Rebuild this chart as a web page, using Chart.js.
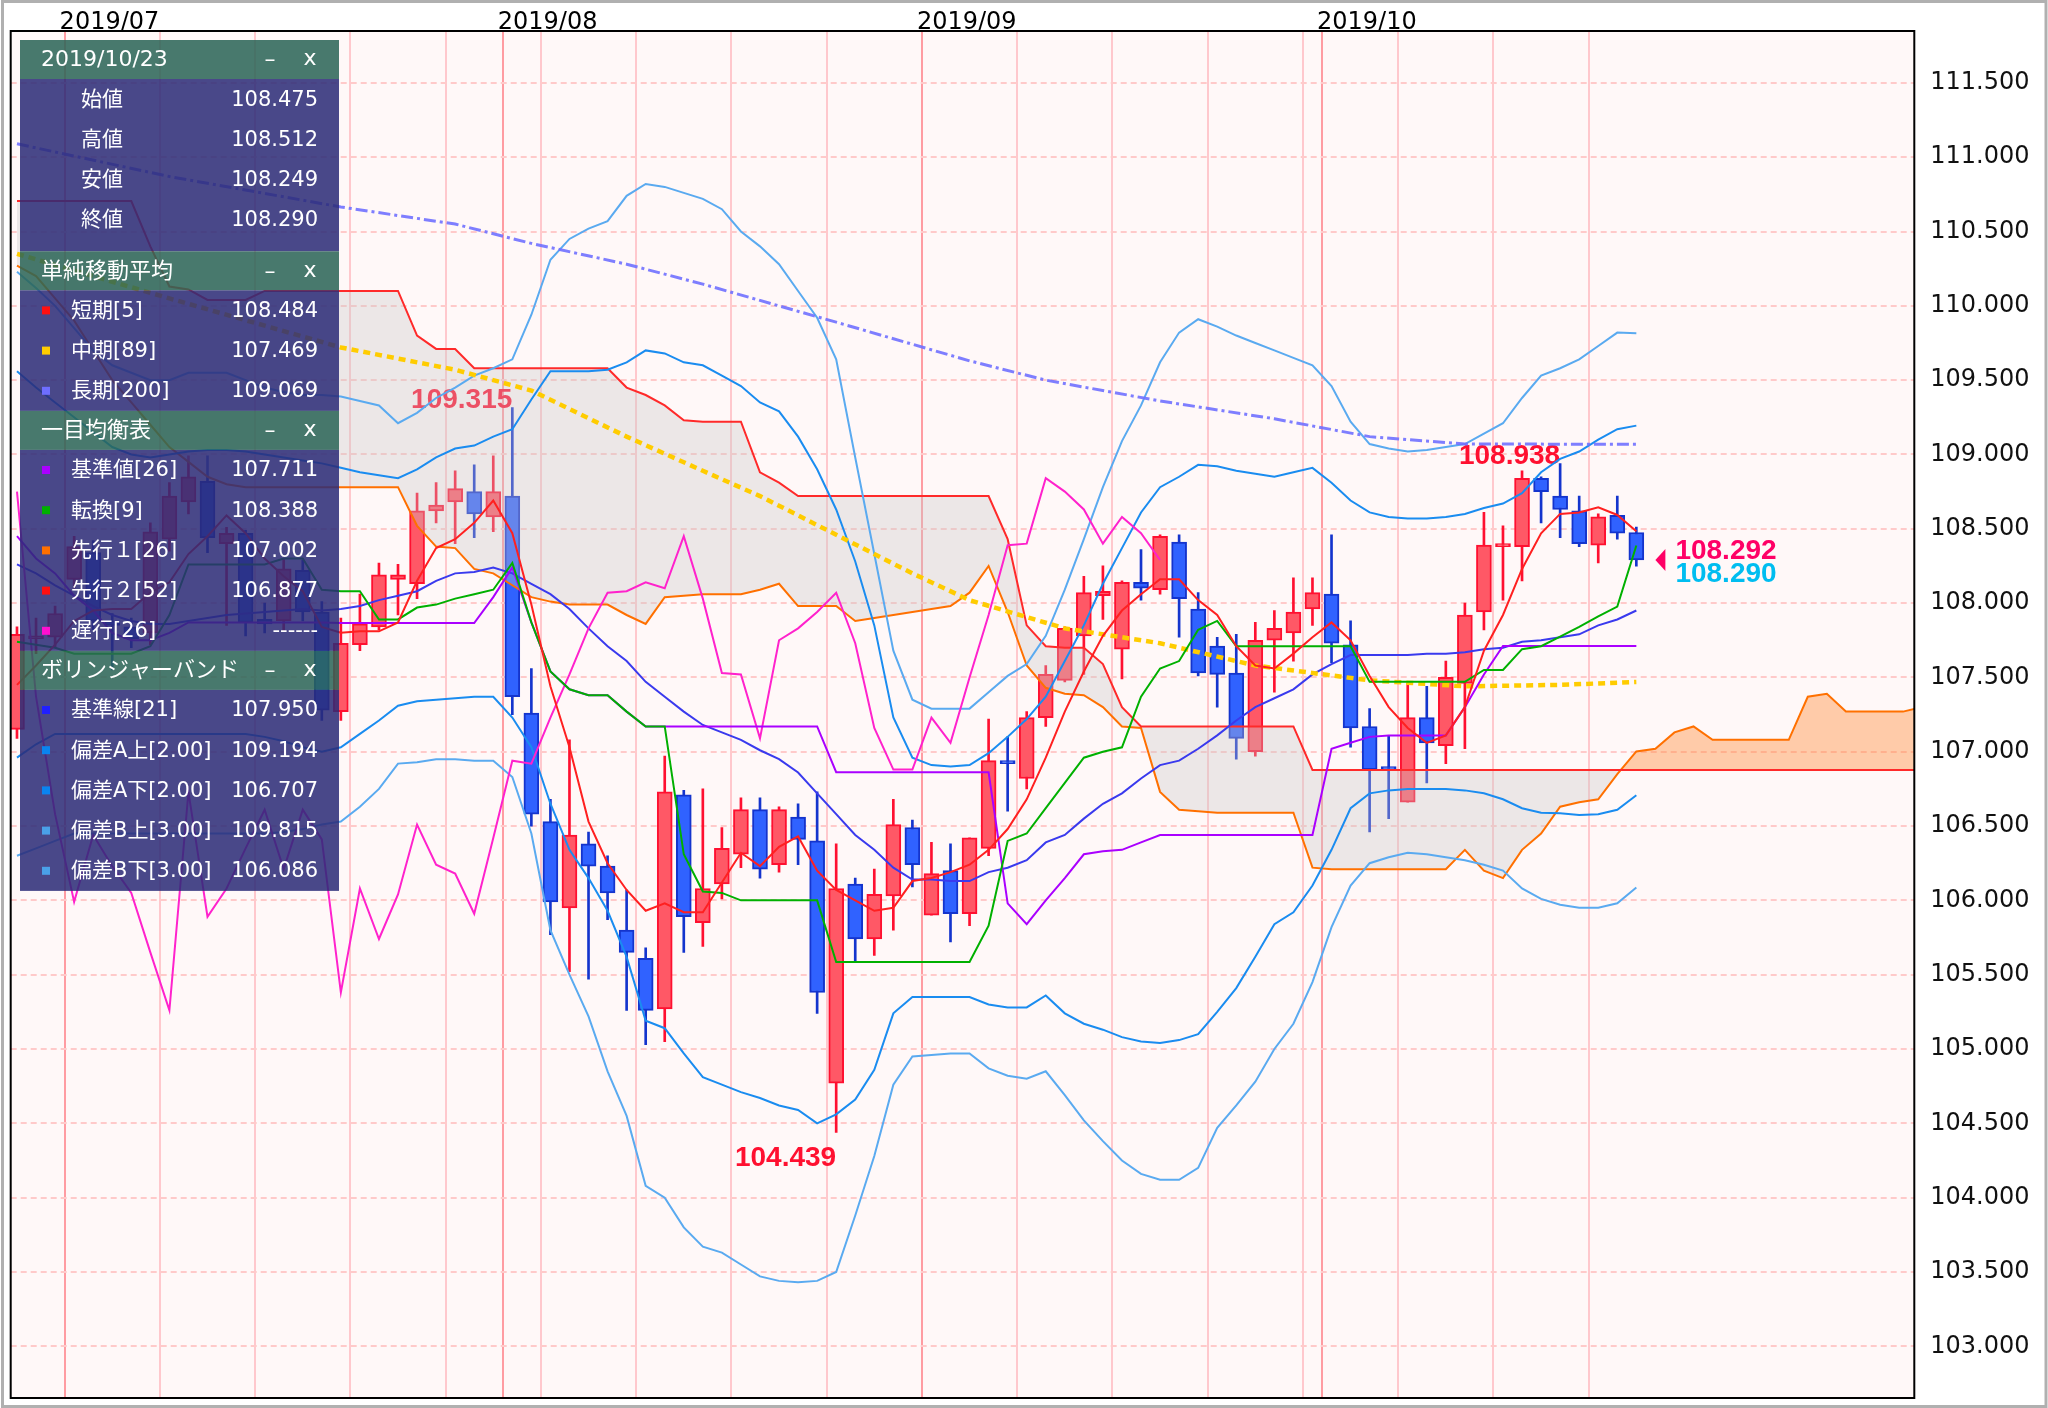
<!DOCTYPE html>
<html>
<head>
<meta charset="utf-8">
<script src="https://cdn.jsdelivr.net/npm/chart.js@4.4.1/dist/chart.umd.min.js"></script>
<style>
  html, body { margin: 0; padding: 0; background: #ffffff; }
  #wrap { width: 2048px; height: 1408px; }
</style>
</head>
<body>
<div id="wrap"><canvas id="chart" width="2048" height="1408"></canvas></div>
<script>
// Trading days shown on the chart (USD/JPY daily)
const dates = [
  '2019/06/26','2019/06/27','2019/06/28',
  '2019/07/01','2019/07/02','2019/07/03','2019/07/04','2019/07/05',
  '2019/07/08','2019/07/09','2019/07/10','2019/07/11','2019/07/12',
  '2019/07/15','2019/07/16','2019/07/17','2019/07/18','2019/07/19',
  '2019/07/22','2019/07/23','2019/07/24','2019/07/25','2019/07/26',
  '2019/07/29','2019/07/30','2019/07/31','2019/08/01','2019/08/02',
  '2019/08/05','2019/08/06','2019/08/07','2019/08/08','2019/08/09',
  '2019/08/12','2019/08/13','2019/08/14','2019/08/15','2019/08/16',
  '2019/08/19','2019/08/20','2019/08/21','2019/08/22','2019/08/23',
  '2019/08/26','2019/08/27','2019/08/28','2019/08/29','2019/08/30',
  '2019/09/02','2019/09/03','2019/09/04','2019/09/05','2019/09/06',
  '2019/09/09','2019/09/10','2019/09/11','2019/09/12','2019/09/13',
  '2019/09/16','2019/09/17','2019/09/18','2019/09/19','2019/09/20',
  '2019/09/23','2019/09/24','2019/09/25','2019/09/26','2019/09/27',
  '2019/09/30','2019/10/01','2019/10/02','2019/10/03','2019/10/04',
  '2019/10/07','2019/10/08','2019/10/09','2019/10/10','2019/10/11',
  '2019/10/14','2019/10/15','2019/10/16','2019/10/17','2019/10/18',
  '2019/10/21','2019/10/22','2019/10/23'
];

// Candles
const open = [
  107.15,107.76,107.77,108.16,108.34,107.88,107.84,107.80,108.43,108.68,
  108.82,108.40,108.47,107.89,107.88,108.22,107.94,107.27,107.72,107.84,
  108.16,108.13,108.62,108.68,108.75,108.58,108.72,107.26,106.53,105.95,
  106.38,106.23,105.80,105.61,105.27,106.71,105.85,106.11,106.31,106.61,
  106.24,106.56,106.40,104.77,106.11,105.74,106.03,106.49,105.90,106.20,
  105.91,106.35,106.93,106.82,107.23,107.48,107.78,108.05,107.69,108.14,
  108.09,108.41,107.96,107.71,107.53,107.00,107.75,107.80,107.96,108.06,
  107.72,107.17,106.90,106.66,107.23,107.04,107.46,107.94,108.38,108.38,
  108.84,108.72,108.62,108.39,108.59,108.475
];
const high = [
  107.84,107.90,107.98,108.45,108.42,107.93,107.90,108.54,108.81,108.99,
  108.99,108.51,108.49,108.00,108.30,108.29,108.01,107.90,108.06,108.27,
  108.26,108.74,108.81,108.89,108.93,108.99,109.315,107.56,106.68,107.08,
  106.46,106.30,106.07,105.68,106.97,106.74,106.75,106.49,106.69,106.69,
  106.63,106.65,106.73,106.38,106.15,106.21,106.68,106.54,106.39,106.38,
  106.42,107.22,107.10,107.27,107.58,107.84,108.18,108.25,108.15,108.36,
  108.46,108.46,108.07,107.77,107.79,107.87,107.95,108.17,108.17,108.46,
  107.88,107.29,107.11,107.46,107.44,107.61,108.00,108.61,108.52,108.89,
  108.85,108.938,108.72,108.60,108.72,108.512
];
const low = [
  107.09,107.66,107.70,108.10,107.82,107.55,107.70,107.72,108.35,108.60,
  108.34,107.85,107.78,107.80,107.81,107.88,107.21,107.21,107.68,107.82,
  107.92,108.03,108.54,108.40,108.44,108.48,107.25,106.50,105.77,105.52,
  105.47,105.87,105.26,105.03,105.05,105.65,105.69,106.01,106.22,106.15,
  106.19,106.24,105.24,104.439,105.59,105.63,105.80,106.09,105.90,105.72,
  105.83,106.30,106.60,106.75,107.17,107.47,107.52,107.89,107.49,108.02,
  108.06,107.77,107.51,107.30,106.95,106.97,107.40,107.61,107.85,107.60,
  107.03,106.46,106.55,106.66,106.79,106.92,107.02,107.82,108.02,108.15,
  108.54,108.44,108.38,108.27,108.43,108.249
];
const close = [
  107.79,107.77,107.93,108.38,107.88,107.85,107.76,108.48,108.72,108.85,
  108.44,108.47,107.87,107.86,108.23,107.94,107.28,107.73,107.86,108.19,
  108.19,108.62,108.66,108.77,108.60,108.75,107.37,106.58,105.99,106.44,
  106.23,106.05,105.65,105.26,106.73,105.89,106.08,106.35,106.61,106.21,
  106.61,106.41,105.38,106.08,105.74,106.04,106.51,106.24,106.18,105.91,
  106.42,106.94,106.92,107.23,107.52,107.83,108.07,108.08,108.14,108.10,
  108.45,108.03,107.53,107.52,107.09,107.75,107.83,107.94,108.07,107.73,
  107.16,106.88,106.88,107.23,107.06,107.50,107.92,108.39,108.40,108.84,
  108.75,108.63,108.40,108.58,108.47,108.290
];
const askPrice = 108.292;

// Simple moving averages
const sma5 = [
  107.45,107.58,107.72,107.88,107.95,107.96,107.96,108.07,108.14,108.33,
  108.45,108.59,108.47,108.30,108.18,108.08,107.84,107.80,107.81,107.81,
  107.87,108.15,108.37,108.43,108.54,108.69,108.47,107.99,107.44,107.03,
  106.53,106.25,106.07,105.93,105.98,105.92,105.92,106.12,106.32,106.23,
  106.36,106.43,106.20,106.07,106.00,105.93,105.95,106.13,106.15,106.19,
  106.24,106.34,106.48,106.68,106.96,107.27,107.54,107.78,107.95,108.06,
  108.16,108.16,108.02,107.92,107.71,107.58,107.56,107.66,107.77,107.87,
  107.75,107.51,107.30,107.16,107.06,107.11,107.30,107.68,107.92,108.23,
  108.47,108.60,108.61,108.645,108.593,108.484
];
const sma89Day = [0, 8, 17, 23, 27, 32, 36, 39, 43, 47, 50, 55, 60, 65, 71, 76, 81, 85];
const sma89Val = [110.35,110.05,109.72,109.57,109.43,109.12,108.89,108.72,108.46,108.20,108.02,107.83,107.73,107.58,107.48,107.44,107.45,107.469];
const sma200Day = [0, 8, 17, 23, 27, 32, 36, 43, 50, 54, 60, 66, 71, 76, 85];
const sma200Val = [111.09,110.87,110.665,110.55,110.42,110.28,110.146,109.89,109.63,109.50,109.36,109.24,109.12,109.07,109.069];

// Ichimoku
const kijun = [
  108.45,108.30,108.20,108.05,107.95,107.80,107.75,107.75,107.80,107.87,
  107.87,107.87,107.87,107.87,107.87,107.87,107.87,107.866,107.866,107.866,
  107.866,107.866,107.866,107.866,107.866,108.04,108.24,107.87,107.54,107.42,
  107.38,107.38,107.27,107.17,107.17,107.17,107.17,107.17,107.17,107.17,
  107.17,107.17,107.17,106.862,106.862,106.862,106.862,106.862,106.862,106.862,
  106.862,106.862,105.98,105.84,106.00,106.15,106.31,106.33,106.34,106.39,
  106.44,106.44,106.44,106.44,106.44,106.44,106.44,106.44,106.44,107.02,
  107.06,107.10,107.11,107.11,107.11,107.11,107.30,107.52,107.711,107.711,
  107.711,107.711,107.711,107.711,107.711,107.711
];
const tenkan = [
  107.74,107.72,107.70,107.66,107.66,107.66,107.66,107.71,107.92,108.26,
  108.26,108.26,108.26,108.26,108.30,108.30,108.09,108.08,108.08,107.89,
  107.89,107.97,107.99,108.03,108.06,108.09,108.27,107.87,107.54,107.42,
  107.38,107.38,107.27,107.17,107.17,106.31,106.06,106.05,106.00,106.00,
  106.00,106.00,106.00,105.585,105.585,105.585,105.585,105.585,105.585,105.585,
  105.585,105.83,106.40,106.45,106.62,106.79,106.96,107.00,107.03,107.37,
  107.56,107.61,107.82,107.88,107.71,107.71,107.71,107.71,107.71,107.71,
  107.71,107.47,107.47,107.47,107.47,107.47,107.47,107.55,107.55,107.69,
  107.71,107.775,107.84,107.91,107.976,108.388
];
// leading spans run 14 slots past the last candle
const senkouA = [
  110.27,110.20,110.05,109.90,109.70,109.50,109.35,109.20,109.05,108.95,
  108.85,108.80,108.78,108.78,108.78,108.78,108.78,108.78,108.78,108.78,
  108.78,108.52,108.38,108.37,108.23,108.20,108.12,108.04,108.01,107.99,
  107.99,107.99,107.92,107.86,108.04,108.05,108.06,108.06,108.06,108.09,
  108.13,107.98,107.98,107.98,107.88,107.90,107.92,107.94,107.96,107.98,
  108.07,108.25,107.94,107.58,107.43,107.39,107.38,107.30,107.17,107.16,
  106.73,106.61,106.60,106.59,106.59,106.59,106.59,106.59,106.22,106.21,
  106.21,106.21,106.21,106.21,106.21,106.21,106.34,106.20,106.15,106.34,
  106.45,106.63,106.66,106.68,106.85,107.002,107.02,107.13,107.17,107.08,
  107.08,107.08,107.08,107.08,107.37,107.39,107.27,107.27,107.27,107.27,
  107.30
];
const senkouB = [
  110.705,110.705,110.705,110.705,110.705,110.705,110.705,110.40,110.13,110.11,
  110.04,110.04,110.04,110.10,110.10,110.10,110.10,110.10,110.10,110.10,
  110.10,109.80,109.71,109.71,109.58,109.58,109.58,109.58,109.58,109.58,
  109.58,109.58,109.45,109.40,109.33,109.23,109.22,109.22,109.22,108.88,
  108.81,108.72,108.72,108.72,108.72,108.72,108.72,108.72,108.72,108.72,
  108.72,108.72,108.43,107.85,107.71,107.70,107.70,107.59,107.30,107.17,
  107.17,107.17,107.17,107.17,107.17,107.17,107.17,107.17,106.877,106.877,
  106.877,106.877,106.877,106.877,106.877,106.877,106.877,106.877,106.877,106.877,
  106.877,106.877,106.877,106.877,106.877,106.877,106.877,106.877,106.877,106.877,
  106.877,106.877,106.877,106.877,106.877,106.877,106.877,106.877,106.877,106.877,
  106.877
];
const laggingShift = 25;

// Bollinger bands
const bbMid = [
  108.26,108.20,108.12,108.05,107.98,107.92,107.88,107.86,107.86,107.88,
  107.90,107.92,107.93,107.94,107.95,107.96,107.95,107.96,107.98,108.02,
  108.05,108.08,108.15,108.20,108.21,108.24,108.20,108.13,108.06,107.96,
  107.83,107.71,107.61,107.47,107.37,107.27,107.18,107.13,107.08,107.01,
  106.95,106.86,106.72,106.58,106.44,106.34,106.22,106.14,106.14,106.13,
  106.13,106.19,106.22,106.27,106.39,106.44,106.55,106.65,106.72,106.82,
  106.91,106.94,107.02,107.11,107.21,107.30,107.36,107.42,107.52,107.59,
  107.65,107.65,107.65,107.65,107.66,107.66,107.67,107.69,107.70,107.74,
  107.75,107.77,107.79,107.85,107.89,107.950
];
const bbUp2 = [
  109.56,109.45,109.35,109.25,109.15,109.05,109.00,108.98,109.00,109.02,
  109.03,109.03,109.02,109.00,108.98,108.96,108.94,108.91,108.88,108.86,
  108.84,108.90,108.98,109.04,109.06,109.12,109.17,109.37,109.56,109.56,
  109.56,109.57,109.62,109.70,109.68,109.62,109.60,109.53,109.46,109.35,
  109.29,109.12,108.90,108.63,108.28,107.85,107.23,106.96,106.91,106.90,
  106.91,106.99,107.10,107.22,107.37,107.61,107.85,108.13,108.37,108.61,
  108.78,108.85,108.93,108.92,108.89,108.87,108.85,108.88,108.91,108.81,
  108.69,108.61,108.58,108.57,108.57,108.58,108.60,108.64,108.67,108.74,
  108.88,108.97,109.02,109.10,109.17,109.194
];
const bbLow2 = [
  106.96,107.05,107.12,107.12,107.12,107.12,107.12,107.12,107.12,107.12,
  107.12,107.12,107.12,107.10,107.07,107.03,107.00,107.03,107.12,107.21,
  107.31,107.34,107.35,107.36,107.37,107.37,107.23,107.03,106.65,106.34,
  106.15,105.93,105.62,105.19,105.14,104.97,104.81,104.76,104.71,104.67,
  104.62,104.59,104.50,104.56,104.66,104.86,105.24,105.35,105.35,105.35,
  105.35,105.30,105.28,105.28,105.36,105.24,105.17,105.13,105.08,105.05,
  105.04,105.06,105.10,105.25,105.41,105.62,105.84,105.92,106.10,106.34,
  106.62,106.72,106.74,106.75,106.75,106.75,106.74,106.72,106.68,106.62,
  106.59,106.586,106.575,106.58,106.61,106.707
];
const bbUp3 = [
  110.23,110.12,110.00,109.85,109.70,109.60,109.55,109.50,109.50,109.55,
  109.55,109.55,109.50,109.45,109.42,109.40,109.40,109.39,109.36,109.33,
  109.21,109.28,109.38,109.45,109.53,109.58,109.64,109.94,110.31,110.45,
  110.52,110.57,110.74,110.82,110.80,110.76,110.72,110.65,110.50,110.40,
  110.28,110.10,109.92,109.64,108.98,108.33,107.68,107.35,107.29,107.29,
  107.29,107.40,107.51,107.59,107.78,108.09,108.43,108.78,109.09,109.33,
  109.62,109.82,109.91,109.86,109.80,109.75,109.70,109.65,109.60,109.46,
  109.22,109.07,109.04,109.02,109.03,109.05,109.07,109.14,109.21,109.38,
  109.53,109.58,109.64,109.73,109.82,109.815
];
const bbLow3 = [
  106.30,106.35,106.40,106.45,106.45,106.45,106.45,106.45,106.45,106.45,
  106.45,106.45,106.45,106.45,106.46,106.48,106.51,106.53,106.63,106.75,
  106.92,106.93,106.95,106.95,106.94,106.94,106.83,106.45,105.80,105.50,
  105.22,104.85,104.55,104.08,104.00,103.80,103.67,103.63,103.55,103.47,
  103.44,103.43,103.44,103.50,103.88,104.28,104.76,104.95,104.96,104.97,
  104.97,104.87,104.82,104.80,104.85,104.69,104.52,104.38,104.25,104.16,
  104.12,104.12,104.20,104.47,104.62,104.78,105.00,105.17,105.45,105.82,
  106.10,106.25,106.29,106.32,106.31,106.29,106.27,106.24,106.20,106.08,
  106.01,105.97,105.95,105.95,105.98,106.086
];

// Axis
const yTicks = { min: 102.652, max: 111.849, step: 0.5 };

const last = dates.length - 1;
const isUp = close.map((c, k) => c > open[k]);
const upFill = 'rgb(255,88,102)', upEdge = 'rgb(255,16,48)';
const downFill = 'rgb(48,98,255)', downEdge = 'rgb(20,52,205)';

// Grid lines: Mondays (pink) and first trading day of a month (red, labelled)
const monthLines = {};
const gridValues = [];
dates.forEach(function (d, k) {
  if (k === 0) return;
  const p = d.split('/').map(Number);
  const prevMonth = Number(dates[k - 1].split('/')[1]);
  if (p[1] !== prevMonth) {
    monthLines[k - 0.5] = d.slice(0, 7);
    gridValues.push(k - 0.5);
  } else if (new Date(p[0], p[1] - 1, p[2]).getDay() === 1) {
    gridValues.push(k - 0.5);
  }
});

const pts = (arr) => arr.map((v, k) => ({ x: k, y: v }));
const sparse = (days, vals) => days.map((d, i) => ({ x: d, y: vals[i] }));
const lagging = close.slice(laggingShift).map((v, k) => ({ x: k, y: v }));

function line(label, data, color, extra)
{
  return Object.assign({
    type: 'line', label: label, data: data, borderColor: color, borderWidth: 2,
    pointRadius: 0, tension: 0, fill: false, spanGaps: true, order: 2
  }, extra || {});
}

// Side panel contents
const panelSections = [
  { title: dates[last], pad: 11.5, rows: [
      { label: '始値', value: open[last] },
      { label: '高値', value: high[last] },
      { label: '安値', value: low[last] },
      { label: '終値', value: close[last] } ] },
  { title: '単純移動平均', rows: [
      { color: '#ff1010', label: '短期[5]', value: sma5[last] },
      { color: '#ffcc00', label: '中期[89]', value: sma89Val[sma89Val.length - 1] },
      { color: '#6e6eff', label: '長期[200]', value: sma200Val[sma200Val.length - 1] } ] },
  { title: '一目均衡表', rows: [
      { color: '#aa00ff', label: '基準値[26]', value: kijun[last] },
      { color: '#00b000', label: '転換[9]', value: tenkan[last] },
      { color: '#ff7000', label: '先行１[26]', value: senkouA[last] },
      { color: '#ff1010', label: '先行２[52]', value: senkouB[last] },
      { color: '#ff10d0', label: '遅行[26]', value: null } ] },
  { title: 'ボリンジャーバンド', rows: [
      { color: '#2020ff', label: '基準線[21]', value: bbMid[last] },
      { color: '#0a84f0', label: '偏差A上[2.00]', value: bbUp2[last] },
      { color: '#0a84f0', label: '偏差A下[2.00]', value: bbLow2[last] },
      { color: '#4aa0e8', label: '偏差B上[3.00]', value: bbUp3[last] },
      { color: '#4aa0e8', label: '偏差B下[3.00]', value: bbLow3[last] } ] }
];

const TXT = '"DejaVu Sans", "Noto Sans CJK JP", sans-serif';

function drawPanel(ctx)
{
  const left = 20, width = 319, headH = 39, rowH = 40.2;
  let y = 40;
  ctx.save();
  ctx.textBaseline = 'middle';
  panelSections.forEach(function (sec)
  {
    ctx.fillStyle = 'rgba(42,100,86,0.86)';
    ctx.fillRect(left, y, width, headH);
    ctx.fillStyle = '#ffffff';
    ctx.font = '22px ' + TXT;
    ctx.textAlign = 'left';
    ctx.fillText(sec.title, 41, y + headH / 2 + 1);
    ctx.textAlign = 'center';
    ctx.fillText('\u2013', 270, y + headH / 2 + 1);
    ctx.fillText('x', 310, y + headH / 2);
    y += headH;

    const bodyH = sec.rows.length * rowH + (sec.pad || 0);
    ctx.fillStyle = 'rgba(43,43,119,0.86)';
    ctx.fillRect(left, y, width, bodyH);
    sec.rows.forEach(function (r, i)
    {
      const cy = y + rowH * (i + 0.5);
      if (r.color)
      {
        ctx.fillStyle = r.color;
        ctx.fillRect(42, cy - 4, 8, 8);
      }
      ctx.fillStyle = '#ffffff';
      ctx.font = '21px ' + TXT;
      ctx.textAlign = 'left';
      ctx.fillText(r.label, r.color ? 71 : 81, cy + 1);
      ctx.textAlign = 'right';
      ctx.fillText(r.value === null ? '------' : r.value.toFixed(3), 318, cy + 1);
    });
    y += bodyH;
  });
  ctx.restore();
}

// Background of the plot area
const backdrop = {
  id: 'backdrop',
  beforeDraw(chart)
  {
    const { ctx, chartArea: a } = chart;
    ctx.save();
    ctx.fillStyle = '#ffffff';
    ctx.fillRect(0, 0, chart.width, chart.height);
    ctx.fillStyle = '#fff8f8';
    ctx.fillRect(a.left, a.top, a.right - a.left, a.bottom - a.top);
    ctx.restore();
  }
};

// High / low price tags, drawn right after the candle bodies so the cloud covers them
const priceTags = {
  id: 'priceTags',
  afterDatasetDraw(chart, args)
  {
    if (args.index !== 1) return;
    const { ctx, scales: { x, y } } = chart;
    let iMax = 0, iMin = 0;
    high.forEach((v, k) => { if (v > high[iMax]) iMax = k; });
    low.forEach((v, k) => { if (v < low[iMin]) iMin = k; });
    let iMax2 = iMin;
    for (let k = iMin; k <= last; k++) if (high[k] > high[iMax2]) iMax2 = k;

    ctx.save();
    ctx.font = 'bold 28px "Liberation Sans", sans-serif';
    ctx.fillStyle = '#ff1030';
    ctx.textAlign = 'right';
    ctx.textBaseline = 'alphabetic';
    [iMax, iMax2].forEach(function (k)
    {
      ctx.fillText(high[k].toFixed(3), x.getPixelForValue(k), y.getPixelForValue(high[k]));
    });
    ctx.fillText(low[iMin].toFixed(3), x.getPixelForValue(iMin), y.getPixelForValue(low[iMin]) + 34);
    ctx.restore();
  }
};

// Frame, current price marker and the info panel
const overlay = {
  id: 'overlay',
  afterDraw(chart)
  {
    const { ctx, chartArea: a, scales: { x, y } } = chart;
    ctx.save();
    ctx.strokeStyle = '#000000';
    ctx.lineWidth = 2;
    ctx.strokeRect(a.left, a.top, a.right - a.left, a.bottom - a.top);
    ctx.strokeStyle = '#b0b0b0';
    ctx.lineWidth = 3;
    ctx.strokeRect(2.5, 1.5, chart.width - 4.5, chart.height - 3);

    const tipX = x.getPixelForValue(last + 1);
    const py = y.getPixelForValue(close[last]);
    ctx.fillStyle = '#ff0066';
    ctx.beginPath();
    ctx.moveTo(tipX, py);
    ctx.lineTo(tipX + 10, py - 11);
    ctx.lineTo(tipX + 10, py + 11);
    ctx.closePath();
    ctx.fill();
    ctx.font = 'bold 28px "Liberation Sans", sans-serif';
    ctx.textAlign = 'left';
    ctx.textBaseline = 'alphabetic';
    ctx.fillText(askPrice.toFixed(3), tipX + 20, py - 1);
    ctx.fillStyle = '#00bdf0';
    ctx.fillText(close[last].toFixed(3), tipX + 20, py + 22);
    ctx.restore();

    drawPanel(ctx);
  }
};

const chart = new Chart(document.getElementById('chart'),
{
  type: 'line',
  plugins: [backdrop, priceTags, overlay],
  data: {
    datasets: [
      // wicks and bodies
      {
        type: 'bar', label: 'wick', grouped: false, order: 20, barThickness: 2,
        data: dates.map((d, k) => ({ x: k, y: [low[k], high[k]] })),
        backgroundColor: isUp.map(u => u ? upEdge : downEdge)
      },
      {
        type: 'bar', label: 'body', grouped: false, order: 19, barThickness: 15,
        minBarLength: 3, borderWidth: 2, borderSkipped: false,
        data: dates.map((d, k) => ({ x: k, y: [open[k], close[k]] })),
        backgroundColor: isUp.map(u => u ? upFill : downFill),
        borderColor: isUp.map(u => u ? upEdge : downEdge)
      },
      // cloud
      line('先行１', pts(senkouA), '#ff7000', {
        order: 10,
        fill: { target: '+1', above: 'rgba(255,140,60,0.42)', below: 'rgba(200,200,200,0.35)' }
      }),
      line('先行２', pts(senkouB), '#ff2a2a', { order: 9 }),
      // bands
      line('偏差B上', pts(bbUp3), '#5aaaf0', { order: 8 }),
      line('偏差B下', pts(bbLow3), '#5aaaf0', { order: 8 }),
      line('偏差A上', pts(bbUp2), '#1a8cf0', { order: 7 }),
      line('偏差A下', pts(bbLow2), '#1a8cf0', { order: 7 }),
      line('基準線', pts(bbMid), '#3a3aee', { order: 6 }),
      // moving averages
      line('長期', sparse(sma200Day, sma200Val), 'rgba(112,112,255,0.9)', { order: 5, borderWidth: 3, borderDash: [12, 4, 3, 4] }),
      line('中期', sparse(sma89Day, sma89Val), '#ffcc00', { order: 5, borderWidth: 4.5, borderDash: [7, 5] }),
      // ichimoku lines
      line('遅行', lagging, '#ff22cc', { order: 4 }),
      line('基準値', pts(kijun), '#aa00ff', { order: 3 }),
      line('転換', pts(tenkan), '#00b000', { order: 2 }),
      line('短期', pts(sma5), '#ff2020', { order: 1 })
    ]
  },
  options: {
    responsive: false,
    devicePixelRatio: 1,
    animation: false,
    layout: { padding: { left: 10.7, top: 0, right: 0, bottom: 10 } },
    plugins: { legend: { display: false }, tooltip: { enabled: false } },
    scales: {
      x: {
        type: 'linear', position: 'top', min: -0.33, max: 99.59, offset: false,
        afterBuildTicks: (axis) => { axis.ticks = gridValues.map(v => ({ value: v })); },
        afterFit: (axis) => { axis.height = 31; axis.paddingLeft = 0; axis.paddingRight = 0; },
        ticks: {
          autoSkip: false, maxRotation: 0, align: 'start', padding: -4, labelOffset: -5,
          color: '#000000', font: { family: 'DejaVu Sans', size: 24, lineHeight: 1 },
          callback: (v) => monthLines[v] || ''
        },
        grid: {
          offset: false, drawTicks: false, lineWidth: 2,
          color: (c) => (c.tick && monthLines[c.tick.value]) ? '#ff9ca2' : '#ffc8cd'
        },
        border: { display: false }
      },
      y: {
        type: 'linear', position: 'right', min: yTicks.min, max: yTicks.max,
        // keep the plot area full height: no label overhang padding
        afterFit: (axis) => { axis.width = 133.7; axis.paddingTop = 0; axis.paddingBottom = 0; },
        ticks: {
          stepSize: yTicks.step, includeBounds: false, padding: 16,
          color: '#111111', font: { family: 'DejaVu Sans', size: 24 },
          callback: (v) => Number(v).toFixed(3)
        },
        grid: { drawTicks: false, lineWidth: 2, color: '#ffcaca' },
        border: { display: false, dash: [6, 4] }
      }
    }
  }
});
</script>
</body>
</html>
